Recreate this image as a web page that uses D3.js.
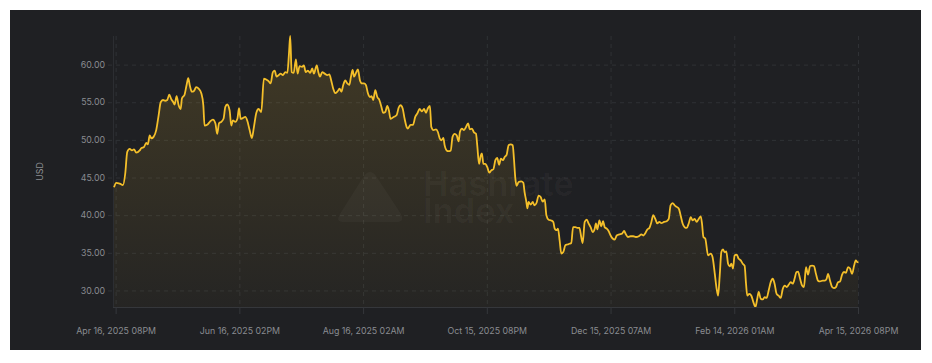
<!DOCTYPE html>
<html>
<head>
<meta charset="utf-8">
<script src="https://cdn.jsdelivr.net/npm/d3@7"></script>
<style>
  html, body { margin: 0; padding: 0; background: #ffffff; }
  svg { display: block; font-family: Inter, "Helvetica Neue", Arial, sans-serif; }
</style>
</head>
<body>
<svg id="chart" width="932" height="363"></svg>
<script>
// day offsets from Apr 16, 2025 08PM, and hashprice in USD
var days = [
  -0.8, 0.3, 2.0, 3.6, 4.7, 5.7, 6.9, 8.0, 9.0, 10.1, 11.8, 12.6, 13.9, 15.0, 15.8, 16.7, 17.5, 18.6, 19.9,
  21.1, 22.1, 23.2, 24.3, 25.3, 26.3, 27.3, 28.3, 28.9, 29.9, 30.9, 31.9, 32.5, 33.8, 34.8, 35.6, 36.4, 37.4,
  38.4, 39.5, 40.7, 42.0, 43.0, 43.6, 44.9, 46.2, 47.7, 48.9, 49.8, 50.7, 51.8, 52.9, 53.8, 54.7, 55.9, 56.7,
  57.5, 58.7, 59.7, 60.5, 61.3, 62.4, 63.6, 64.6, 65.7, 66.8, 67.8, 69.0, 70.1,
  71.4, 72.7, 73.9, 75.0, 76.0, 77.1, 78.0, 78.9, 79.9, 80.9, 82.0, 83.2, 84.2, 85.0, 85.6, 86.3, 87.3, 88.4,
  89.2, 90.2, 91.4, 92.3, 93.2, 94.3, 95.4, 96.4, 97.2, 98.6, 99.4, 100.2, 101.3, 102.5, 103.8, 104.8, 105.7,
  106.7, 107.7, 108.7, 109.8, 110.7, 111.6, 112.6, 113.6, 114.6, 115.4, 116.2, 116.9, 117.7, 118.8, 119.8,
  120.8, 121.8, 122.7, 123.7, 124.7, 125.5, 126.3, 127.3, 128.3, 129.3, 130.3, 131.2, 132.2, 133.2, 134.0,
  134.8, 135.8, 136.8, 137.8, 138.8, 139.7, 140.7, 141.7, 142.7,
  143.3, 144.6, 145.8, 146.9, 147.9, 149.1, 150.2, 151.2, 152.2, 153.1, 154.1, 154.8, 155.8, 157.1, 158.0,
  158.9, 159.7, 160.7, 161.3, 162.3, 163.3, 164.3, 165.2, 166.2, 167.2, 168.2, 168.8, 169.8, 170.8, 171.8,
  172.8, 173.7, 174.7, 175.7, 176.7, 177.3, 178.2, 179.0, 179.6, 180.3, 181.3, 182.2, 183.2, 184.2, 185.2,
  186.2, 187.1, 188.0, 188.9, 189.9, 190.7, 191.7, 192.7, 193.7, 194.7, 195.3, 196.0, 196.6, 197.6, 198.9,
  199.9, 200.5, 201.4, 201.9, 202.5, 203.5, 204.5, 205.4, 206.4, 207.4, 208.4, 209.4, 210.4, 211.2, 212.3,
  213.6, 214.6, 215.3, 216.2,
  216.9, 217.7, 218.5, 219.5, 220.5, 221.5, 222.5, 223.4, 224.3, 225.4, 226.4, 227.4, 228.3, 229.0, 230.0,
  231.0, 231.9, 232.9, 233.9, 234.9, 235.5, 236.2, 237.2, 238.1, 239.0, 239.8, 240.8, 241.7, 242.7, 243.7,
  244.7, 245.7, 247.0, 248.3, 249.3, 250.2, 251.2, 252.5, 253.8, 255.1, 256.5, 257.8, 258.7, 259.7, 260.7,
  261.7, 262.7, 263.6, 264.6, 265.6, 266.6, 267.6, 268.9, 270.2, 271.2, 272.1, 273.1, 274.1, 275.1, 276.1,
  277.0, 278.0, 279.0, 280.0, 281.0, 282.0, 282.9, 283.9, 284.9, 285.9, 286.9, 287.5, 288.2, 289.1,
  290.5, 291.8, 292.7, 293.7, 294.7, 295.4, 296.2, 297.0, 297.8, 298.6, 299.4, 300.3, 301.1, 301.9, 302.7,
  303.5, 304.5, 305.5, 306.5, 307.5, 308.4, 309.1, 309.7, 310.7, 311.7, 312.7, 313.7, 314.6, 315.3, 316.3,
  317.3, 318.2, 319.2, 320.2, 321.2, 322.2, 323.1, 324.1, 325.1, 326.1, 327.1, 328.1, 329.0, 330.0, 331.0,
  332.0, 333.0, 333.8, 334.6, 335.6, 336.6, 337.5, 338.5, 339.5, 340.5, 341.5, 342.4, 343.4, 344.4, 345.4,
  346.7, 347.7, 348.6, 349.3, 350.3, 351.3, 352.2, 353.2, 354.2, 355.2, 356.2, 357.1, 358.1, 359.1, 360.1,
  361.1, 362.1, 362.9, 363.7, 364.0
];
var prices = [
  43.7, 44.3, 44.2, 44.0, 45.5, 48.4, 48.8, 48.6, 48.75, 48.3, 48.6, 48.9, 49.05, 49.6, 49.4, 50.6, 50.2, 50.4, 51.3,
  53.3, 55.0, 55.3, 55.2, 55.3, 56.0, 55.4, 55.0, 54.7, 55.8, 54.6, 54.1, 55.5, 56.0, 57.3, 58.2, 57.2, 56.4,
  56.5, 57.0, 56.8, 56.2, 54.6, 51.9, 52.0, 52.4, 52.7, 52.2, 50.8, 52.2, 52.4, 52.8, 54.4, 54.7, 53.9, 51.9,
  52.6, 52.4, 52.8, 54.2, 52.8, 52.9, 53.05, 52.5, 51.3, 50.25, 51.7, 53.6, 54.1,
  53.7, 58.15, 58.0, 57.8, 57.5, 59.0, 59.2, 58.4, 58.6, 58.8, 58.6, 59.0, 58.9, 61.5, 63.8, 59.0, 58.9, 60.7,
  58.8, 59.8, 59.7, 59.9, 59.0, 59.2, 58.9, 59.5, 58.8, 59.9, 59.0, 58.4, 59.0, 58.8, 58.6, 58.7, 57.9,
  56.8, 56.2, 56.4, 56.8, 56.4, 57.3, 57.9, 57.5, 57.3, 58.4, 59.3, 58.4, 58.8, 59.35, 57.9,
  57.5, 57.5, 57.3, 56.2, 55.7, 55.8, 55.3, 56.6, 55.7, 55.3, 54.4, 53.6, 53.7, 54.5, 53.9,
  52.8, 52.95, 53.1, 53.3, 54.3, 54.6, 54.2, 52.8, 51.7,
  51.5, 52.0, 52.0, 53.05, 53.5, 54.1, 53.8, 54.1, 53.6, 54.2, 54.5, 51.7, 51.3, 51.4, 51.05,
  50.2, 49.95, 50.25, 49.3, 48.6, 48.5, 48.6, 50.4, 50.8, 50.6, 49.8, 51.05, 51.5, 51.3, 51.7,
  52.2, 51.4, 51.5, 51.0, 50.8, 49.3, 46.8, 47.9, 48.2, 46.8, 46.8, 46.4, 45.65, 45.95, 46.1,
  47.3, 47.6, 46.7, 47.5, 47.3, 47.7, 48.0, 49.3, 49.4, 49.3, 47.5, 44.85, 43.9, 44.4, 44.5,
  44.3, 43.1, 41.75, 40.9, 41.75, 41.4, 41.75, 41.3, 41.65, 42.6, 42.4, 41.8, 42.1, 40.0, 39.4,
  39.3, 39.1, 38.2, 38.0,
  38.2, 36.65, 34.9, 35.1, 36.0, 36.1, 36.2, 36.3, 38.4, 38.4, 38.3, 38.3, 37.1, 36.3, 39.1,
  39.4, 38.9, 38.4, 37.75, 38.2, 38.9, 38.1, 39.3, 38.5, 39.2, 38.4, 38.2, 37.9, 37.3, 36.9,
  36.75, 37.3, 37.45, 37.55, 37.9, 37.45, 37.1, 37.2, 37.2, 37.1, 37.2, 37.45, 37.3, 37.6, 38.1,
  38.3, 39.1, 40.0, 39.5, 38.9, 39.1, 38.95, 39.1, 39.2, 39.5, 41.3, 41.6, 41.3, 41.1, 40.9,
  40.0, 38.9, 38.4, 38.3, 38.9, 39.75, 39.3, 39.5, 39.1, 39.5, 39.85, 38.9, 37.1, 36.9,
  34.65, 34.9, 34.4, 32.4, 30.2, 29.3, 32.0, 35.1, 35.45, 35.1, 35.2, 33.55, 33.2, 33.55, 32.9,
  34.65, 34.75, 34.2, 34.0, 33.55, 33.3, 30.9, 29.3, 29.55, 29.3, 28.45, 27.8, 28.9, 29.8, 28.9,
  28.8, 29.1, 29.0, 30.0, 31.1, 31.55, 30.9, 29.55, 29.3, 29.0, 30.2, 30.65, 30.45, 30.75, 31.1,
  30.9, 31.65, 32.45, 32.5, 31.55, 30.65, 30.45, 33.1, 32.1, 33.25, 33.3, 33.25, 32.2, 31.3, 31.2,
  31.3, 31.3, 31.55, 32.2, 31.3, 30.45, 30.3, 30.45, 31.1, 31.2, 32.1, 32.45, 32.35, 33.1, 32.9,
  32.2, 33.3, 34.0, 33.75, 33.85
];
var yTicks = [30, 35, 40, 45, 50, 55, 60];
var xTickLabels = [
  "Apr 16, 2025 08PM", "Jun 16, 2025 02PM", "Aug 16, 2025 02AM", "Oct 15, 2025 08PM",
  "Dec 15, 2025 07AM", "Feb 14, 2026 01AM", "Apr 15, 2026 08PM"
];
var yLabel = "USD";

var t0 = Date.UTC(2025, 3, 16, 20);
var DAY = 864e5;
var data = days.map(function(d, i) { return {date: new Date(t0 + d * DAY), value: prices[i]}; });
var tickDates = xTickLabels.map(function(l, i) { return new Date(t0 + i * (364 / 6) * DAY); });

var svg = d3.select("#chart");
var plotL = 114, plotR = 858, plotT = 36, plotB = 307;

svg.append("rect")
  .attr("x", 10).attr("y", 10).attr("width", 911).attr("height", 340)
  .attr("fill", "#1f2023");

var x = d3.scaleTime().domain(d3.extent(data, function(d) { return d.date; })).range([plotL, plotR]);
var y = d3.scaleLinear().domain(d3.extent(prices)).range([plotB, plotT]);

var defs = svg.append("defs");
var grad = defs.append("linearGradient")
  .attr("id", "areaFill")
  .attr("gradientUnits", "userSpaceOnUse")
  .attr("x1", 0).attr("y1", plotT).attr("x2", 0).attr("y2", plotB);
grad.append("stop").attr("offset", "0%").attr("stop-color", "#f5c232").attr("stop-opacity", 0.16);
grad.append("stop").attr("offset", "100%").attr("stop-color", "#f5c232").attr("stop-opacity", 0.03);

var gridColor = "#2f3135";
var textColor = "#8a8c91";
var fontFam = "Inter, 'Helvetica Neue', Arial, sans-serif";

// horizontal grid
svg.append("g").selectAll("line").data(yTicks).enter().append("line")
  .attr("x1", plotL - 6).attr("x2", plotR)
  .attr("y1", function(d) { return y(d) + 0.5; }).attr("y2", function(d) { return y(d) + 0.5; })
  .attr("stroke", gridColor).attr("stroke-dasharray", "4,4");

// vertical grid
svg.append("g").selectAll("line").data(tickDates).enter().append("line")
  .attr("x1", function(d) { return x(d) + 0.5; }).attr("x2", function(d) { return x(d) + 0.5; })
  .attr("y1", plotT).attr("y2", plotB)
  .attr("stroke", gridColor).attr("stroke-dasharray", "4,4");

// y axis line
svg.append("line")
  .attr("x1", plotL - 0.5).attr("x2", plotL - 0.5).attr("y1", plotT).attr("y2", plotB)
  .attr("stroke", "#2c2e32");

// y tick labels
svg.append("g").selectAll("text").data(yTicks).enter().append("text")
  .attr("x", plotL - 9).attr("y", function(d) { return y(d); })
  .attr("dy", "0.35em")
  .attr("text-anchor", "end")
  .attr("font-size", 8.8)
  .attr("fill", textColor)
  .text(function(d) { return d.toFixed(2); });

svg.append("text")
  .attr("transform", "translate(43," + ((plotT + plotB) / 2) + ") rotate(-90)")
  .attr("text-anchor", "middle")
  .attr("font-size", 8.8)
  .attr("fill", textColor)
  .text(yLabel);

// area + line
var area = d3.area()
  .x(function(d) { return x(d.date); })
  .y0(plotB)
  .y1(function(d) { return y(d.value); })
  .curve(d3.curveMonotoneX);
var line = d3.line()
  .x(function(d) { return x(d.date); })
  .y(function(d) { return y(d.value); })
  .curve(d3.curveMonotoneX);

svg.append("path").datum(data).attr("d", area).attr("fill", "url(#areaFill)");

// watermark
var wm = svg.append("g").attr("fill", "#ffffff").attr("fill-opacity", 0.03);
wm.append("path")
  .attr("d", "M364,176 Q370,168 376,176 L401,214 Q405,222 396,222 L344,222 Q335,222 340,214 Z");
wm.append("text").attr("x", 423).attr("y", 196)
  .attr("font-size", 34).attr("font-weight", 700).text("Hashrate");
wm.append("text").attr("x", 423).attr("y", 223)
  .attr("font-size", 34).attr("font-weight", 700).text("Index");

svg.append("path").datum(data).attr("d", line)
  .attr("fill", "none").attr("stroke", "#f4bf2a").attr("stroke-width", 1.8)
  .attr("stroke-linejoin", "round");

// x axis
var xAxis = d3.axisBottom(x)
  .tickValues(tickDates)
  .tickFormat(function(d, i) { return xTickLabels[i]; })
  .tickSizeInner(7).tickSizeOuter(0).tickPadding(14);
var gx = svg.append("g").attr("transform", "translate(0," + plotB + ")").call(xAxis);
gx.select(".domain").attr("stroke", "#35373b").attr("d", "M" + (plotL - 1) + ",0.5H" + plotR);
gx.selectAll(".tick line").attr("stroke", "#35373b");
gx.selectAll(".tick text").attr("fill", textColor).attr("font-size", 8.8)
  .attr("font-family", fontFam);
</script>
</body>
</html>
